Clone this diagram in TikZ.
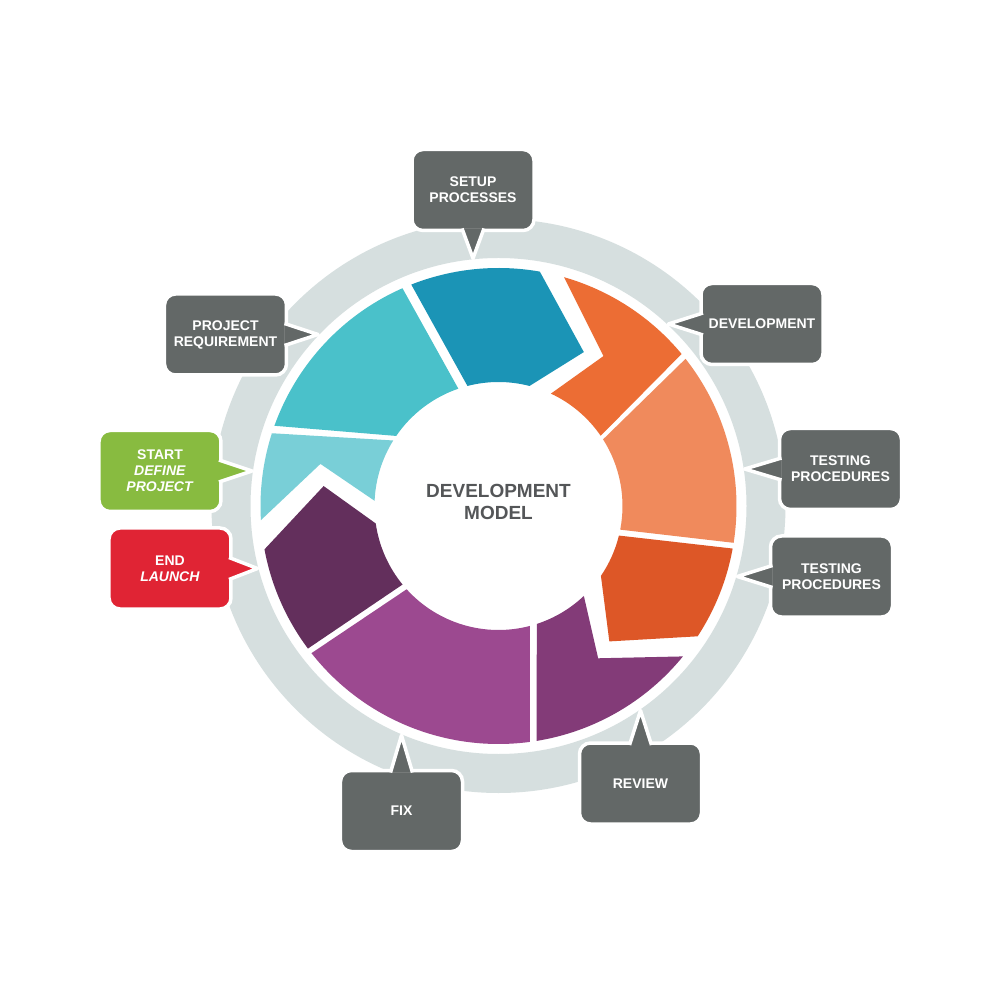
\documentclass[tikz,border=0pt]{standalone}
\usepackage{fontspec}
\setmainfont{Liberation Sans}
\definecolor{ringgray}{RGB}{214,223,223}
\definecolor{boxgray}{RGB}{99,104,103}
\definecolor{titlegray}{RGB}{84,86,88}
\definecolor{reqteal}{RGB}{74,193,202}
\definecolor{startteal}{RGB}{121,207,215}
\definecolor{setupblue}{RGB}{27,148,182}
\definecolor{devorange}{RGB}{236,109,52}
\definecolor{testsalmon}{RGB}{240,138,92}
\definecolor{testred}{RGB}{221,87,39}
\definecolor{reviewpurple}{RGB}{131,59,120}
\definecolor{fixmagenta}{RGB}{156,73,144}
\definecolor{launchplum}{RGB}{99,47,92}
\definecolor{startgreen}{RGB}{136,187,64}
\definecolor{endred}{RGB}{224,36,52}

\begin{document}
\begin{tikzpicture}[x=1pt, y=1pt,
    box/.style={draw=white, line width=3.5pt, fill=boxgray, rounded corners=11pt,
      minimum width=122pt, minimum height=81pt, outer sep=0pt, align=center,
      text=white, font=\bfseries\fontsize{14}{16}\selectfont},
    tail/.style={draw=white, line width=3.5pt, fill=boxgray, line join=round}]
    \useasboundingbox (-498.5,-494) rectangle (501.5,506);
    \fill[white] (-498.5,-494) rectangle (501.5,506);

    % grauer Ring
    \draw[ringgray, line width=39pt] (0,0) circle (267.5);

    % Segmente, im Uhrzeigersinn ab oben
    \fill[setupblue] (111.5:238) arc[start angle=111.5, end angle=80, radius=238]
      -- (61:176) -- (75.5:124) arc[start angle=75.5, end angle=104.5, radius=124] -- cycle;
    \fill[devorange] (74:238) arc[start angle=74, end angle=39.7, radius=238]
      -- (34.5:124) arc[start angle=34.5, end angle=65, radius=124] -- (55:183) -- cycle;
    \fill[testsalmon] (38.2:238) arc[start angle=38.2, end angle=-8.9, radius=238]
      -- (-11:124) arc[start angle=-11, end angle=32.5, radius=124] -- cycle;
    \fill[testred] (-10.3:238) arc[start angle=-10.3, end angle=-33.2, radius=238]
      -- (-50.7:175) -- (-34.3:124) arc[start angle=-34.3, end angle=-13.8, radius=124] -- cycle;
    \fill[reviewpurple] (-39.2:238) arc[start angle=-39.2, end angle=-80.8, radius=238]
      -- (-72:124) arc[start angle=-72, end angle=-46.5, radius=124] -- (-56.8:182) -- cycle;
    \fill[fixmagenta] (-82.4:238) arc[start angle=-82.4, end angle=-141.8, radius=238]
      -- (-137.8:124) arc[start angle=-137.8, end angle=-75.4, radius=124] -- cycle;
    \fill[launchplum] (-143.2:238) arc[start angle=-143.2, end angle=-169.5, radius=238]
      -- (-186.5:176) -- (-171.9:124) arc[start angle=-171.9, end angle=-140.7, radius=124] -- cycle;
    \fill[startteal] (183.4:238) arc[start angle=183.4, end angle=162.2, radius=238]
      -- (148.1:124) arc[start angle=148.1, end angle=177.6, radius=124] -- (166.7:183) -- cycle;
    \fill[reqteal] (160.3:238) arc[start angle=160.3, end angle=113.8, radius=238]
      -- (108.9:124) arc[start angle=108.9, end angle=145.6, radius=124] -- cycle;

    % Mitte
    \node[text=titlegray, align=center, font=\bfseries\fontsize{19}{22}\selectfont]
      (title) at (0,4) {DEVELOPMENT\\MODEL};

    % Boxen
    \node[box] (setup) at (-25.5,316) {SETUP\\PROCESSES};
    \node[box] (dev) at (263.5,182) {DEVELOPMENT};
    \node[box] (test1) at (342,37) {TESTING\\PROCEDURES};
    \node[box] (test2) at (333,-70.5) {TESTING\\PROCEDURES};
    \node[box] (review) at (142,-277.5) {REVIEW};
    \node[box] (fix) at (-97,-305) {FIX};
    \node[box, fill=endred] (launch) at (-328.5,-62.5) {END\\\textit{LAUNCH}};
    \node[box, fill=startgreen] (start) at (-338.5,35) {START\\\textit{DEFINE}\\\textit{PROJECT}};
    \node[box] (req) at (-273,171.5) {PROJECT\\REQUIREMENT};

    % Spitzen am Ring
    \coordinate (setuptip) at (-25.5,247.7);
    \coordinate (devtip) at (169.9,182);
    \coordinate (test1tip) at (246.2,37);
    \coordinate (test2tip) at (238.8,-70.5);
    \coordinate (reviewtip) at (142,-204.5);
    \coordinate (fixtip) at (-97,-229.3);
    \coordinate (launchtip) at (-241,-62.5);
    \coordinate (starttip) at (-246.5,35);
    \coordinate (reqtip) at (-180.5,171.5);

    \filldraw[tail] ([shift={(-11,2)}]setup.south) -- (setuptip) -- ([shift={(11,2)}]setup.south);
    \filldraw[tail] ([shift={(2,11)}]dev.west) -- (devtip) -- ([shift={(2,-11)}]dev.west);
    \filldraw[tail] ([shift={(2,11)}]test1.west) -- (test1tip) -- ([shift={(2,-11)}]test1.west);
    \filldraw[tail] ([shift={(2,11)}]test2.west) -- (test2tip) -- ([shift={(2,-11)}]test2.west);
    \filldraw[tail] ([shift={(-11,-2)}]review.north) -- (reviewtip) -- ([shift={(11,-2)}]review.north);
    \filldraw[tail] ([shift={(-11,-2)}]fix.north) -- (fixtip) -- ([shift={(11,-2)}]fix.north);
    \filldraw[tail, fill=endred] ([shift={(-2,11)}]launch.east) -- (launchtip) -- ([shift={(-2,-11)}]launch.east);
    \filldraw[tail, fill=startgreen] ([shift={(-2,11)}]start.east) -- (starttip) -- ([shift={(-2,-11)}]start.east);
    \filldraw[tail] ([shift={(-2,11)}]req.east) -- (reqtip) -- ([shift={(-2,-11)}]req.east);
\end{tikzpicture}
\end{document}
